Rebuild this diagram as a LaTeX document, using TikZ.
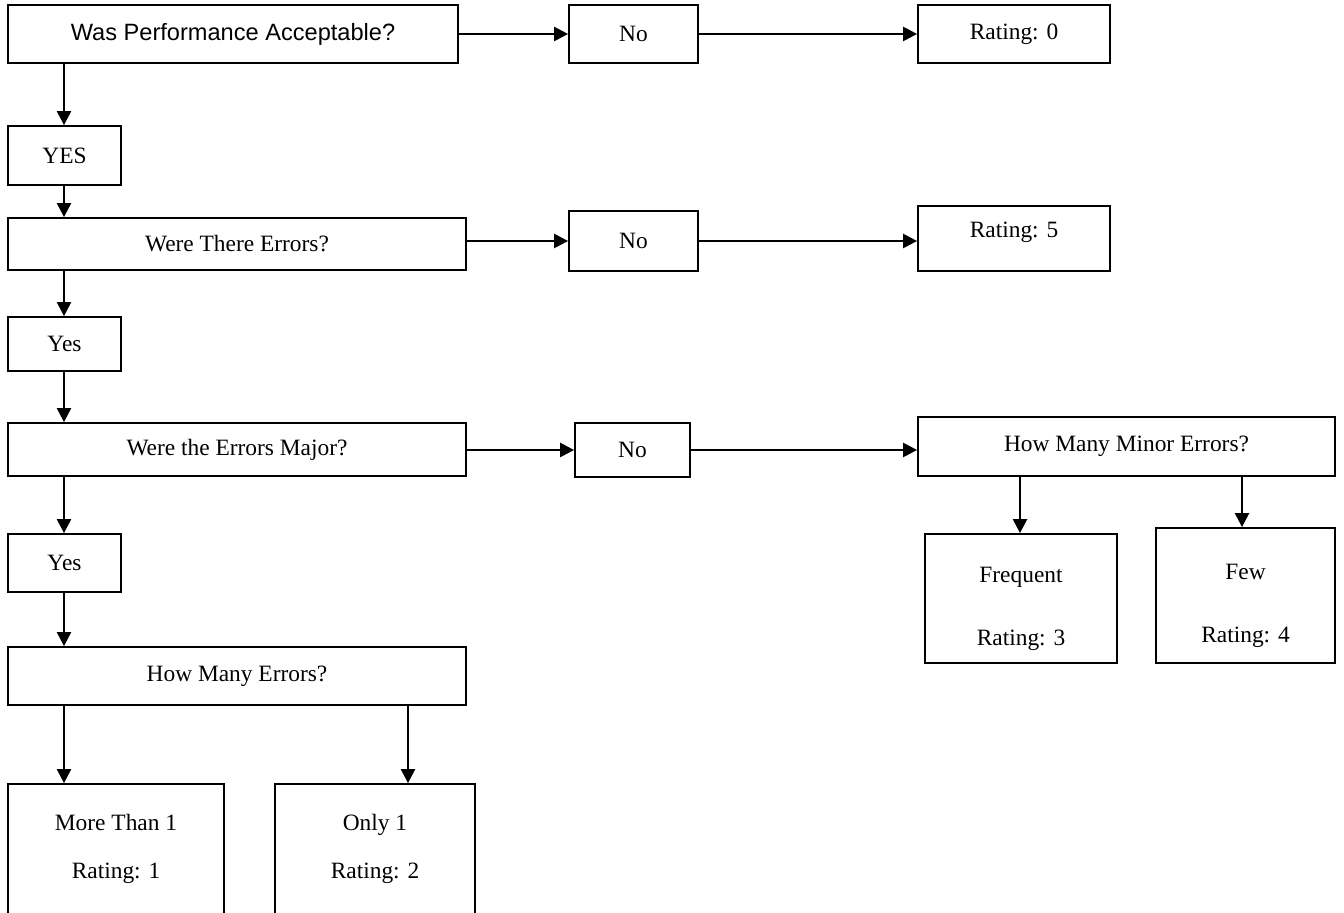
\documentclass[tikz,border=0pt]{standalone}
\usepackage{fontspec}
\setmainfont{Liberation Serif}
\newfontfamily\arialfont{Liberation Sans}
\usetikzlibrary{arrows.meta}

\tikzset{
  box/.style={draw, line width=0.9pt, inner sep=0pt, align=center,
    font=\fontsize{11.7}{14}\selectfont},
  arr/.style={line width=1.2pt, -{Triangle[length=7pt,width=7pt]}},
}

\begin{document}
\begin{tikzpicture}[x=0.5pt, y=-0.5pt]
		%%%%% START %%%%%
		\useasboundingbox (0,0) rectangle (1344,913);
		\clip (0,0) rectangle (1344,913);
		
		\coordinate (colL) at (64,0);
		\coordinate (colI) at (408,0);
		\coordinate (colF) at (1020,0);
		\coordinate (colG) at (1242,0);
		
		% first question
		\node[box, minimum width=225pt, minimum height=29pt,
		  font=\arialfont\fontsize{11.8}{14}\selectfont] (perf) at (233,34) {Was Performance Acceptable?};
		\node[box, minimum width=64.5pt, minimum height=29pt] (noA) at (633.5,34) {No};
		\node[box, minimum width=96pt, minimum height=29pt] (rateZero) at (1014,34) {Rating: 0};
		\node[box, minimum width=56.5pt, minimum height=29.5pt] (yesA) at (64.5,155.5) {YES};
		
		% second question
		\node[box, minimum width=229pt, minimum height=26pt] (errs) at (237,244) {Were There Errors?};
		\node[box, minimum width=64.5pt, minimum height=30pt] (noB) at (633.5,241) {No};
		\node[box, minimum width=96pt, minimum height=32.5pt, text depth=8.5pt] (rateFive) at (1014,238.5) {Rating: 5};
		\node[box, minimum width=56.5pt, minimum height=27pt] (yesB) at (64.5,344) {Yes};
		
		% third question
		\node[box, minimum width=229pt, minimum height=26.5pt] (major) at (237,449.5) {Were the Errors Major?};
		\node[box, minimum width=57.5pt, minimum height=27pt] (noC) at (632.5,450) {No};
		\node[box, minimum width=208.5pt, minimum height=29.5pt] (minor) at (1126.5,446.5) {How Many Minor Errors?};
		\node[box, minimum width=56.5pt, minimum height=29pt] (yesC) at (64.5,563) {Yes};
		\node[box, minimum width=229pt, minimum height=29pt] (count) at (237,676) {How Many Errors?};
		
		% ratings
		\node[box, minimum width=96pt, minimum height=64.5pt] (freq) at (1021,598.5) {\\[4pt]Frequent\\[17.5pt]Rating: 3};
		\node[box, minimum width=89.5pt, minimum height=67.5pt] (few) at (1245.5,595.5) {\\[4pt]Few\\[17.5pt]Rating: 4};
		\node[box, minimum width=108pt, minimum height=65pt] (many) at (116,849) {More Than 1\\[10pt]Rating: 1};
		\node[box, minimum width=100pt, minimum height=65pt] (one) at (375,849) {Only 1\\[10pt]Rating: 2};
		
		% down the left side
		\draw[arr] (perf.south -| colL) -- (yesA.north -| colL);
		\draw[arr] (yesA.south -| colL) -- (errs.north -| colL);
		\draw[arr] (errs.south -| colL) -- (yesB.north -| colL);
		\draw[arr] (yesB.south -| colL) -- (major.north -| colL);
		\draw[arr] (major.south -| colL) -- (yesC.north -| colL);
		\draw[arr] (yesC.south -| colL) -- (count.north -| colL);
		\draw[arr] (count.south -| colL) -- (many.north -| colL);
		\draw[arr] (count.south -| colI) -- (one.north -| colI);
		
		% across
		\draw[arr] (perf.east) -- (noA.west);
		\draw[arr] (noA.east) -- (rateZero.west);
		\draw[arr] (errs.east |- noB) -- (noB.west);
		\draw[arr] (noB.east) -- (noB.east -| rateFive.west);
		\draw[arr] (major.east |- noC) -- (noC.west);
		\draw[arr] (noC.east) -- (noC.east -| minor.west);
		
		\draw[arr] (minor.south -| colF) -- (freq.north -| colF);
		\draw[arr] (minor.south -| colG) -- (few.north -| colG);
		%%%%% END %%%%%
	\end{tikzpicture}
\end{document}
